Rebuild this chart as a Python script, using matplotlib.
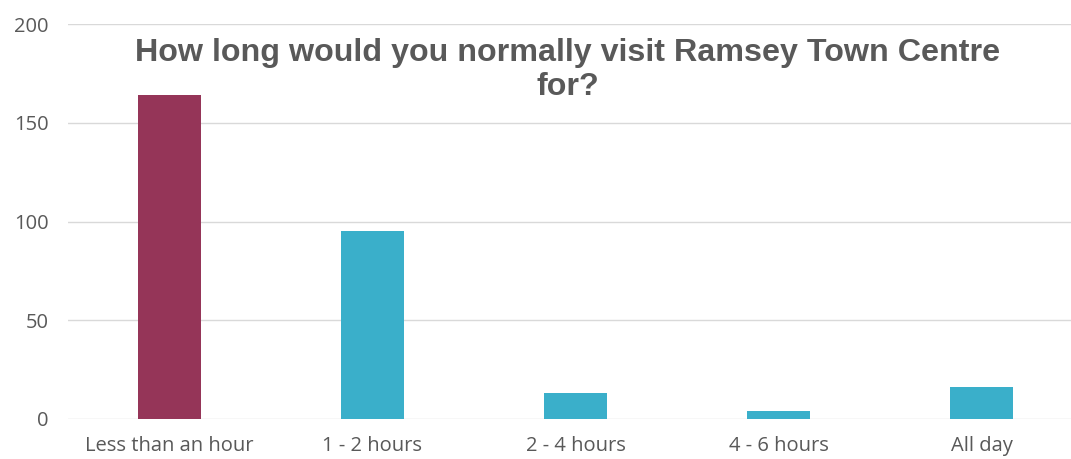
import matplotlib
matplotlib.use("Agg")
from matplotlib import pyplot as plt

categories = ["Less than an hour", "1 - 2 hours", "2 - 4 hours", "4 - 6 hours", "All day"]
values = [164, 95, 13, 4, 16]
colors = ["#953558", "#3AAFCA", "#3AAFCA", "#3AAFCA", "#3AAFCA"]
yticks = [0, 50, 100, 150, 200]

fig = plt.figure(figsize=(10.71, 4.59), dpi=100)
# axes runs past the right edge, as in the cropped source
ax = fig.add_axes([68 / 1071, (459 - 419) / 459, 1015 / 1071, 395 / 459])

x = range(len(categories))
ax.bar(x, values, width=0.315, color=colors, zorder=3)

ax.set_xlim(-0.5, 4.5)
ax.set_ylim(0, 200)
ax.set_yticks(yticks)
ax.set_xticks(list(x))
ax.set_xticklabels(categories)
ax.grid(axis="y", color="#D9D9D9", linewidth=1, zorder=0)
for s in ["top", "right", "left", "bottom"]:
    ax.spines[s].set_visible(False)
ax.tick_params(length=0, labelsize=14.5, labelcolor="#595959")
ax.tick_params(axis="x", pad=12)
ax.tick_params(axis="y", pad=14)
for lab in ax.get_xticklabels() + ax.get_yticklabels():
    lab.set_family("Open Sans")

fig.text(568 / 1071, 1 - 70 / 459, "How long would you normally visit Ramsey Town Centre\nfor?",
         ha="center", va="center", fontsize=23.2, fontweight="bold", color="#595959",
         family="Liberation Sans", linespacing=1.15)

fig.savefig("out.png", dpi=100)
